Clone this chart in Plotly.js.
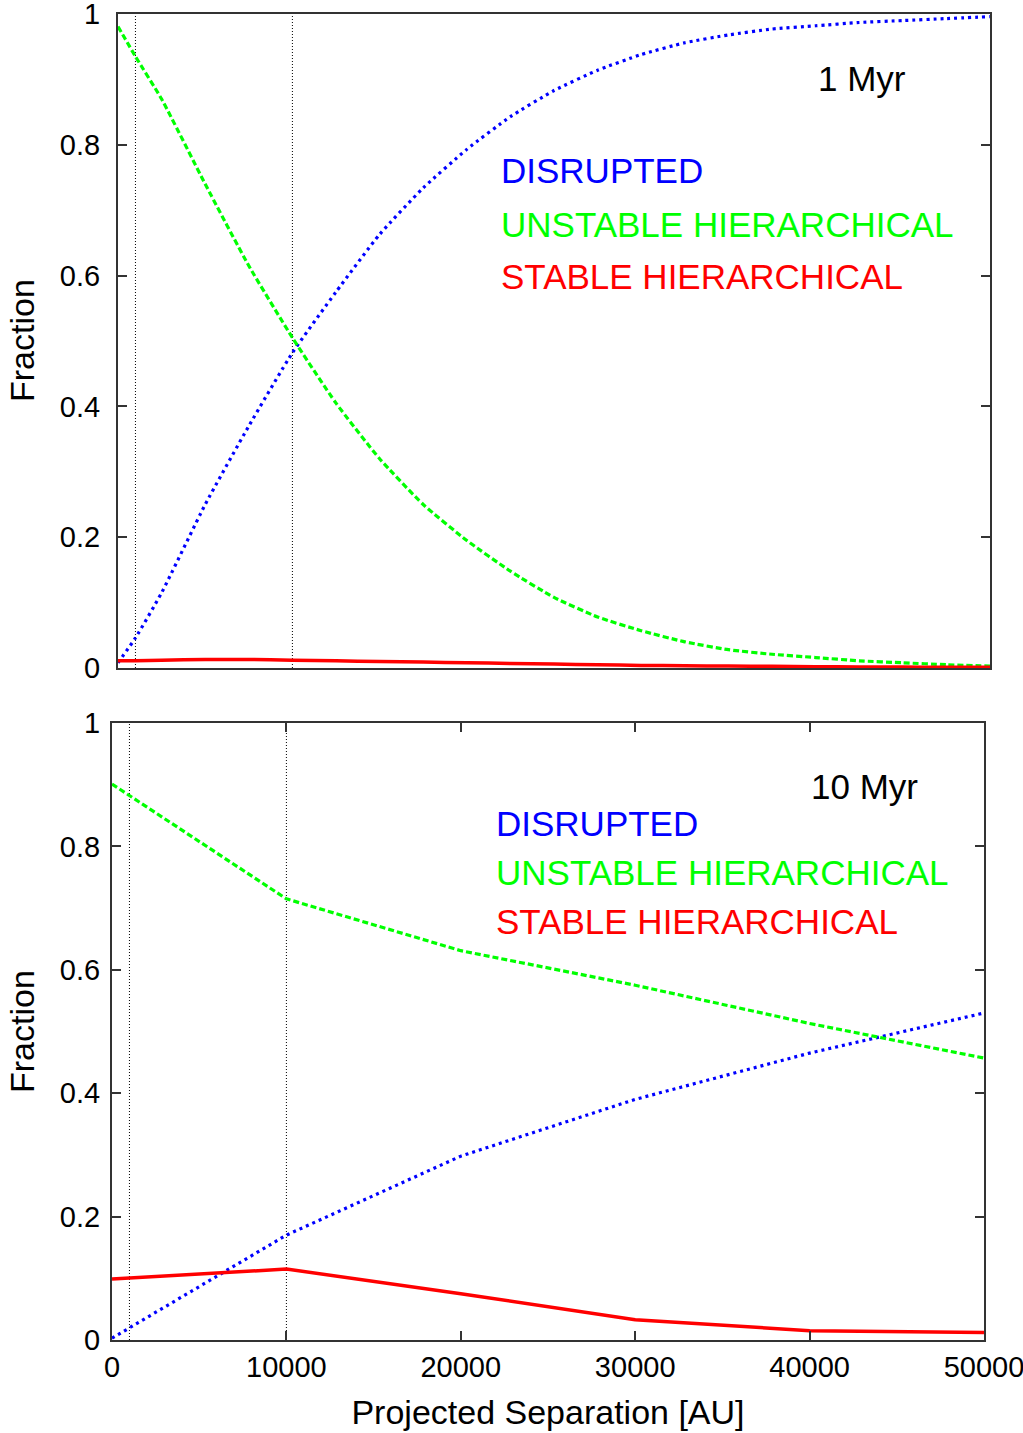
<!DOCTYPE html>
<html>
<head>
<meta charset="utf-8">
<script src="https://cdn.plot.ly/plotly-3.0.1.min.js"></script>
<style>html,body{margin:0;padding:0;background:#fff;}#chart{width:1023px;height:1433px;}</style>
</head>
<body>
<div id="chart"></div>
<script>
// ---- Data: 1 Myr panel ----
const sep1 = [0, 1000, 2500, 5000, 7500, 10000, 12500, 15000, 17500, 20000, 22500, 25000, 27500, 30000, 32500, 35000, 37500, 40000, 42500, 45000, 47500, 50000];
const disrupted1 = [0.008, 0.046, 0.115, 0.25, 0.37, 0.482, 0.575, 0.663, 0.734, 0.793, 0.843, 0.883, 0.914, 0.938, 0.956, 0.968, 0.977, 0.982, 0.987, 0.99, 0.993, 0.996];
const unstable1 = [0.981, 0.935, 0.87, 0.74, 0.615, 0.505, 0.405, 0.32, 0.25, 0.195, 0.148, 0.108, 0.078, 0.057, 0.04, 0.028, 0.021, 0.016, 0.011, 0.008, 0.005, 0.003];
const stable1 = [0.011, 0.011, 0.012, 0.013, 0.013, 0.012, 0.011, 0.010, 0.009, 0.008, 0.007, 0.006, 0.005, 0.004, 0.0035, 0.003, 0.0025, 0.002, 0.0017, 0.0014, 0.0012, 0.001];

// ---- Data: 10 Myr panel ----
const sep10 = [0, 10000, 20000, 30000, 40000, 50000];
const disrupted10 = [0.003, 0.170, 0.298, 0.390, 0.465, 0.530];
const unstable10 = [0.901, 0.715, 0.631, 0.575, 0.513, 0.457];
const stable10 = [0.099, 0.115, 0.075, 0.033, 0.015, 0.012];

// reference separations (dotted vertical lines)
const refSeps = [1000, 10000];

const xTicks = [0, 10000, 20000, 30000, 40000, 50000];
const xTickText = ['0', '10000', '20000', '30000', '40000', '50000'];
const yTicks = [0, 0.2, 0.4, 0.6, 0.8, 1];
const yTickText = ['0', '0.2', '0.4', '0.6', '0.8', '1'];

const labels = ['DISRUPTED', 'UNSTABLE HIERARCHICAL', 'STABLE HIERARCHICAL'];
const panelTitles = ['1 Myr', '10 Myr'];
const yTitle = 'Fraction';
const xTitle = 'Projected Separation [AU]';

const BLUE = '#0000ff', GREEN = '#00ff00', RED = '#ff0000';
const FONT = 'Liberation Sans, Arial, sans-serif';
const W = 1023, H = 1433;

function mk(x, y, color, dash, width, xa, ya) {
  return {x: x, y: y, type: 'scatter', mode: 'lines', xaxis: xa, yaxis: ya,
    line: {color: color, dash: dash, width: width, shape: 'spline', smoothing: 0.5}, hoverinfo: 'skip', showlegend: false};
}
function mkLin(x, y, color, dash, width, xa, ya) {
  return {x: x, y: y, type: 'scatter', mode: 'lines', xaxis: xa, yaxis: ya,
    line: {color: color, dash: dash, width: width}, hoverinfo: 'skip', showlegend: false};
}

const traces = [
  mk(sep1, disrupted1, BLUE, '3px,4px', 3.2, 'x', 'y'),
  mk(sep1, unstable1, GREEN, '6px,3px', 3.2, 'x', 'y'),
  mk(sep1, stable1, RED, 'solid', 3.5, 'x', 'y'),
  mkLin(sep10, disrupted10, BLUE, '3px,4px', 3.2, 'x2', 'y2'),
  mkLin(sep10, unstable10, GREEN, '6px,3px', 3.2, 'x2', 'y2'),
  mkLin(sep10, stable10, RED, 'solid', 3.5, 'x2', 'y2')
];

const shapes = [];
refSeps.forEach(function (s) {
  shapes.push({type: 'line', xref: 'x', yref: 'y domain', x0: s, x1: s, y0: 0, y1: 1, line: {color: '#000', width: 1, dash: '1px,2px'}, layer: 'below'});
  shapes.push({type: 'line', xref: 'x2', yref: 'y2 domain', x0: s, x1: s, y0: 0, y1: 1, line: {color: '#000', width: 1, dash: '1px,2px'}, layer: 'below'});
});

function px(x) { return x / W; }
function py(y) { return 1 - y / H; }

const annFont = function (c) { return {family: FONT, size: 35, color: c}; };
const colors = [BLUE, GREEN, RED];
const annotations = [];
annotations.push({xref: 'paper', yref: 'paper', x: px(816), y: py(79), xanchor: 'left', yanchor: 'middle', text: panelTitles[0], showarrow: false, font: annFont('#000')});
annotations.push({xref: 'paper', yref: 'paper', x: px(809), y: py(787), xanchor: 'left', yanchor: 'middle', text: panelTitles[1], showarrow: false, font: annFont('#000')});
const topY = [171, 224, 276], botY = [823, 872, 921];
labels.forEach(function (t, i) {
  annotations.push({xref: 'paper', yref: 'paper', x: px(499), y: py(topY[i]), xanchor: 'left', yanchor: 'middle', text: t, showarrow: false, font: annFont(colors[i])});
  annotations.push({xref: 'paper', yref: 'paper', x: px(494), y: py(botY[i]), xanchor: 'left', yanchor: 'middle', text: t, showarrow: false, font: annFont(colors[i])});
});
// y-axis titles
[341, 1032].forEach(function (yc) {
  annotations.push({xref: 'paper', yref: 'paper', x: px(22), y: py(yc), xanchor: 'center', yanchor: 'middle', textangle: -90, text: yTitle, showarrow: false, font: {family: FONT, size: 34, color: '#000'}});
});

const axLine = {showline: true, linecolor: '#333', linewidth: 2, showgrid: false, zeroline: false, tickcolor: '#333', tickwidth: 2, ticklen: 9, ticklabeloverflow: 'allow'};
const tickFont = {family: FONT, size: 29, color: '#000'};
const titleFont = {family: FONT, size: 34, color: '#000'};

const layout = {
  width: W, height: H,
  margin: {l: 0, r: 0, t: 0, b: 0},
  paper_bgcolor: '#fff', plot_bgcolor: '#fff',
  showlegend: false,
  xaxis: Object.assign({}, axLine, {domain: [px(118), px(990)], range: [0, 50000], anchor: 'y', mirror: true, ticks: '', showticklabels: false}),
  yaxis: Object.assign({}, axLine, {domain: [py(668), py(14)], range: [0, 1], anchor: 'x', mirror: 'ticks', ticks: 'inside',
    tickvals: yTicks, ticktext: yTickText, tickfont: tickFont, ticklabelstandoff: 10}),
  xaxis2: Object.assign({}, axLine, {domain: [px(112), px(984)], range: [0, 50000], anchor: 'y2', mirror: 'ticks', ticks: 'inside',
    tickvals: xTicks, ticktext: xTickText, tickfont: tickFont,
    title: {text: xTitle, font: titleFont, standoff: 18}}),
  yaxis2: Object.assign({}, axLine, {domain: [py(1340), py(723)], range: [0, 1], anchor: 'x2', mirror: 'ticks', ticks: 'inside',
    tickvals: yTicks, ticktext: yTickText, tickfont: tickFont, ticklabelstandoff: 4}),
  shapes: shapes,
  annotations: annotations
};

Plotly.newPlot('chart', traces, layout, {staticPlot: true, displayModeBar: false});
</script>
</body>
</html>
